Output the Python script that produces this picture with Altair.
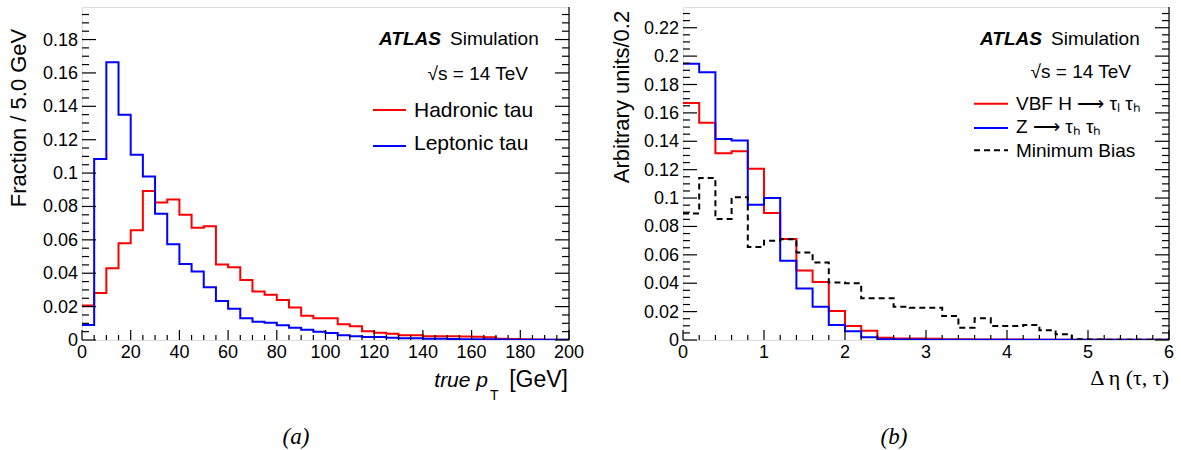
import altair as alt
import pandas as pd

SANS = "Liberation Sans"
SERIF = "Liberation Serif"

# ---------------- data ----------------
pt_bin_width = 5.0
pt_hadronic = [0.0207, 0.0281, 0.0430, 0.0579, 0.0657, 0.0892, 0.0824, 0.0842, 0.0750, 0.0673,
               0.0681, 0.0452, 0.0436, 0.0360, 0.0291, 0.0271, 0.0239, 0.0195, 0.0145, 0.0131,
               0.0130, 0.0094, 0.0082, 0.0052, 0.0044, 0.0038, 0.0028, 0.0028, 0.0022, 0.0022,
               0.0022, 0.0021, 0.0020, 0.0016, 0.0008, 0.0006, 0.0004, 0.0003, 0.0002, 0.0002]
pt_leptonic = [0.0090, 0.1085, 0.1664, 0.1349, 0.1110, 0.0979, 0.0756, 0.0573, 0.0456, 0.0410,
               0.0316, 0.0233, 0.0187, 0.0131, 0.0110, 0.0103, 0.0088, 0.0074, 0.0062, 0.0050,
               0.0042, 0.0028, 0.0022, 0.0018, 0.0018, 0.0014, 0.0010, 0.0010, 0.0008, 0.0007,
               0.0006, 0.0005, 0.0004, 0.0004, 0.0003, 0.0002, 0.0002, 0.0001, 0.0001, 0.0001]

deta_bin_width = 0.2
deta_vbf = [0.1670, 0.1530, 0.1315, 0.1330, 0.1207, 0.0894, 0.0711, 0.0489, 0.0409, 0.0205,
            0.0099, 0.0066, 0.0016, 0.0010, 0.0010, 0.0008, 0.0006, 0.0005, 0.0004, 0.0003,
            0.0003, 0.0002, 0.0002, 0.0002, 0.0001, 0.0001, 0.0001, 0.0001, 0.0001, 0.0001]
deta_z = [0.1946, 0.1887, 0.1416, 0.1405, 0.0953, 0.1000, 0.0558, 0.0362, 0.0235, 0.0106,
          0.0061, 0.0020, 0.0005, 0.0004, 0.0003, 0.0002, 0.0002, 0.0002, 0.0001, 0.0001,
          0.0001, 0.0001, 0.0001, 0.0001, 0.0001, 0.0001, 0.0001, 0.0001, 0.0001, 0.0001]
deta_minbias = [0.0892, 0.1141, 0.0852, 0.1005, 0.0656, 0.0700, 0.0710, 0.0616, 0.0546, 0.0405,
                0.0400, 0.0294, 0.0294, 0.0235, 0.0228, 0.0228, 0.0169, 0.0087, 0.0153, 0.0099,
                0.0099, 0.0106, 0.0068, 0.0040, 0.0005, 0.0003, 0.0002, 0.0001, 0.0001, 0.0001]

pt_ticks_major = [0, 20, 40, 60, 80, 100, 120, 140, 160, 180, 200]
pt_frac_ticks = [0, 0.02, 0.04, 0.06, 0.08, 0.10, 0.12, 0.14, 0.16, 0.18]
deta_ticks_major = [0, 1, 2, 3, 4, 5, 6]
deta_frac_ticks = [0, 0.02, 0.04, 0.06, 0.08, 0.10, 0.12, 0.14, 0.16, 0.18, 0.20, 0.22]

W = 487
H = 333


def steps(values, bw):
    xs = [round(i * bw, 6) for i in range(len(values) + 1)]
    ys = list(values) + [values[-1]]
    return pd.DataFrame({"x": xs, "y": ys})


def minor(lo, hi, step, major):
    out = []
    n = int((hi - lo) / step + 1e-6)
    for i in range(n + 1):
        v = round(lo + i * step, 6)
        if v <= hi and all(abs(v - m) > 1e-9 for m in major):
            out.append(v)
    return out


one = pd.DataFrame({"a": [0]})


def txt(text, x, y, size=19, align="left", baseline="middle", font=SANS,
        style="normal", weight="normal", angle=0):
    kw = dict(text=text, align=align, baseline=baseline, font=font, fontSize=size,
              fontStyle=style, fontWeight=weight, color="black")
    if angle:
        kw["angle"] = angle
    return alt.Chart(one).mark_text(**kw).encode(x=alt.value(x), y=alt.value(y))


def seg(x1, x2, y, color, dash=None):
    kw = dict(color=color, strokeWidth=2)
    if dash:
        kw["strokeDash"] = dash
    return alt.Chart(one).mark_rule(**kw).encode(x=alt.value(x1), x2=alt.value(x2), y=alt.value(y))


def panel(series, bw, xdom, ydom, xmaj, xminor_step, ymaj, yminor_step, xw):
    xs = alt.Scale(domain=xdom, nice=False, zero=False)
    ys = alt.Scale(domain=ydom, nice=False, zero=False)
    dom_axis = dict(labels=False, ticks=False, tickSize=0, grid=False, domain=True,
                    domainColor="black", domainWidth=1.2, title=None)
    layers = []
    first = True
    for vals, color, dash in series:
        mk = dict(interpolate="step-after", color=color, strokeWidth=2, clip=True)
        if dash:
            mk["strokeDash"] = dash
        if first:
            xenc = alt.X("x:Q", scale=xs, title=None, axis=alt.Axis(**dom_axis))
            yenc = alt.Y("y:Q", scale=ys, title=None, axis=alt.Axis(**dom_axis))
            first = False
        else:
            xenc = alt.X("x:Q", scale=xs, axis=None)
            yenc = alt.Y("y:Q", scale=ys, axis=None)
        layers.append(alt.Chart(steps(vals, bw)).mark_line(**mk).encode(x=xenc, y=yenc))

    xmin_vals = minor(xdom[0], xdom[1], xminor_step, xmaj)
    ymin_vals = minor(ydom[0], ydom[1], yminor_step, ymaj)
    for vals, L in ((xmaj, 10), (xmin_vals, 5)):
        layers.append(alt.Chart(pd.DataFrame({"v": vals})).mark_rule(color="black", strokeWidth=1.2)
                      .encode(x=alt.X("v:Q", scale=xs, axis=None), y=alt.value(H), y2=alt.value(H - L)))
    for vals, L in ((ymaj, 14), (ymin_vals, 7)):
        d = pd.DataFrame({"v": vals})
        layers.append(alt.Chart(d).mark_rule(color="black", strokeWidth=1.2)
                      .encode(y=alt.Y("v:Q", scale=ys, axis=None), x=alt.value(0), x2=alt.value(L)))
        layers.append(alt.Chart(d).mark_rule(color="black", strokeWidth=1.2)
                      .encode(y=alt.Y("v:Q", scale=ys, axis=None), x=alt.value(xw - L), x2=alt.value(xw)))
    layers.append(alt.Chart(one).mark_rule(color="black", strokeWidth=1.2)
                  .encode(x=alt.value(xw), y=alt.value(0), y2=alt.value(H)))
    # tick labels
    layers.append(alt.Chart(pd.DataFrame({"v": xmaj})).mark_text(
        font=SANS, fontSize=18, color="black", align="center", baseline="alphabetic")
        .encode(x=alt.X("v:Q", scale=xs, axis=None), y=alt.value(H + 18),
                text=alt.Text("v:Q", format="~g")))
    layers.append(alt.Chart(pd.DataFrame({"v": ymaj})).mark_text(
        font=SANS, fontSize=18, color="black", align="right", baseline="alphabetic", dy=6)
        .encode(y=alt.Y("v:Q", scale=ys, axis=None), x=alt.value(-4),
                text=alt.Text("v:Q", format="~g")))
    return layers


# ---------------- left panel ----------------
left_layers = panel([(pt_hadronic, "#ff0000", None), (pt_leptonic, "#0000ff", None)],
                    pt_bin_width, [0, 200], [0, 0.1995], pt_ticks_major, 5,
                    pt_frac_ticks, 0.005, W)
left_layers += [
    txt("ATLAS", 297, 32, size=19, style="italic", weight="bold"),
    txt("Simulation", 368, 32, size=19),
    txt("\u221as = 14 TeV", 446, 67, size=19, align="right"),
    seg(291, 324, 103, "#ff0000"),
    txt("Hadronic tau", 332, 103.5, size=21),
    seg(291, 324, 139, "#0000ff"),
    txt("Leptonic tau", 332, 137, size=21),
    txt("Fraction / 5.0 GeV", -63, 111, size=22, align="center", angle=270),
    txt("true p", 406, 380, size=21, align="right", baseline="alphabetic", style="italic"),
    txt("T", 408, 393, size=14, align="left", baseline="alphabetic"),
    txt("[GeV]", 486, 380, size=23, align="right", baseline="alphabetic"),
    txt("(a)", 214, 430, size=23, align="center", font=SERIF, style="italic"),
]
left = alt.layer(*left_layers).properties(width=W, height=H)

# ---------------- right panel ----------------
WR = 486
right_layers = panel([(deta_vbf, "#ff0000", None), (deta_z, "#0000ff", None),
                      (deta_minbias, "#000000", [6, 4])],
                     deta_bin_width, [0, 6], [0, 0.2346], deta_ticks_major, 0.2,
                     deta_frac_ticks, 0.005, WR)
right_layers += [
    txt("ATLAS", 297, 31.5, size=19, style="italic", weight="bold"),
    txt("Simulation", 368, 31.5, size=19),
    txt("\u221as = 14 TeV", 448, 65, size=19, align="right"),
    seg(291, 325, 96.7, "#ff0000"),
    txt("VBF H \u27f6 \u03c4\u2097 \u03c4\u2095", 333, 96.5, size=19),
    seg(291, 325, 121, "#0000ff"),
    txt("Z \u27f6 \u03c4\u2095 \u03c4\u2095", 333, 120, size=19),
    seg(291, 325, 143.3, "#000000", [6, 4]),
    txt("Minimum Bias", 333, 143.5, size=19),
    txt("Arbitrary units/0.2", -61, 90, size=22, align="center", angle=270),
    txt("\u0394 \u03b7 (\u03c4, \u03c4)", WR, 378, size=22, align="right", baseline="alphabetic", font=SERIF),
    txt("(b)", 211, 430, size=23, align="center", font=SERIF, style="italic"),
]
right = alt.layer(*right_layers).properties(width=WR, height=H)

chart = alt.hconcat(left, right, spacing=114, bounds="flush").properties(
    padding={"left": 7, "top": 5, "right": 5, "bottom": 5}
).configure_view(stroke=None).configure(background="white")

chart.save("out.html", embed_options={"renderer": "svg", "actions": False})
